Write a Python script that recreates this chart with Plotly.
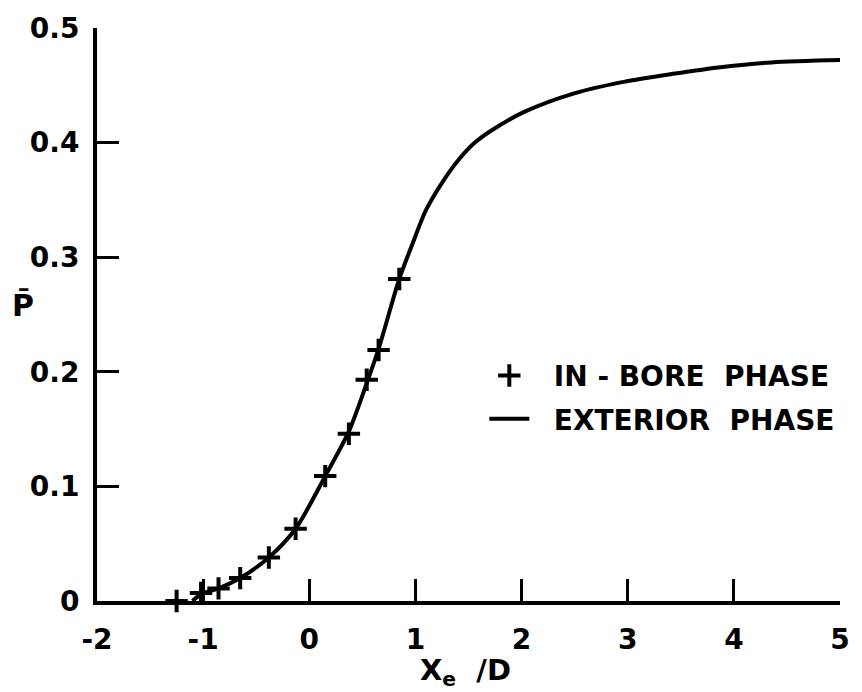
import plotly.graph_objects as go

# In-bore phase data points (+ markers)
inbore_x = [-1.25, -1.02, -0.855, -0.651, -0.381, -0.129, 0.150, 0.373, 0.541, 0.653, 0.848]
inbore_y = [0.0, 0.007, 0.011, 0.020, 0.038, 0.063, 0.109, 0.146, 0.193, 0.219, 0.281]

# Exterior phase curve
ext_x = [-1.10, -1.02, -0.855, -0.651, -0.381, -0.129, 0.150, 0.373, 0.541, 0.653, 0.848,
         0.978, 1.099, 1.258, 1.407, 1.560, 1.723, 2.030, 2.496, 2.961, 3.427, 3.892, 4.357, 5.0]
ext_y = [0.0, 0.006, 0.011, 0.020, 0.038, 0.063, 0.109, 0.148, 0.190, 0.220, 0.281,
         0.313, 0.341, 0.366, 0.385, 0.400, 0.411, 0.427, 0.443, 0.453, 0.460, 0.466, 0.470, 0.472]

x_ticks = [-2, -1, 0, 1, 2, 3, 4, 5]
y_ticks = [0, 0.1, 0.2, 0.3, 0.4, 0.5]
y_ticktext = ["0", "0.1", "0.2", "0.3", "0.4", "0.5"]

FONT = "DejaVu Sans"
NB = "\u00a0"

fig = go.Figure()
fig.add_trace(go.Scatter(
    x=inbore_x, y=inbore_y, mode="markers", name=NB * 2 + "IN - BORE" + NB * 2 + "PHASE",
    legendgroup="a",
    marker=dict(symbol="cross-thin", size=16, line=dict(width=4, color="black"), color="black"),
    cliponaxis=False,
))
fig.add_trace(go.Scatter(
    x=ext_x, y=ext_y, mode="lines", name=NB * 2 + "EXTERIOR" + NB * 2 + "PHASE",
    legendgroup="b",
    line=dict(color="black", width=4, shape="spline", smoothing=0.8),
    cliponaxis=False,
))

W, H = 862, 692
L, R, T, B = 97, 13, 24, 91
pw, ph = W - L - R, H - T - B

def px_x(p):
    return (p - L) / pw

def px_y(p):
    return (H - B - p) / ph

fig.update_layout(
    width=W, height=H,
    margin=dict(l=L, r=R, t=T, b=B),
    paper_bgcolor="white", plot_bgcolor="white",
    font=dict(family=FONT, size=29, color="black", weight="bold"),
    showlegend=True,
    legend=dict(
        x=px_x(489), y=px_y(349), xanchor="left", yanchor="top",
        bgcolor="rgba(0,0,0,0)", borderwidth=0,
        font=dict(family=FONT, size=28, color="black", weight="bold"),
        tracegroupgap=4, itemwidth=40,
    ),
    xaxis=dict(
        range=[-2, 5], tickvals=x_ticks, ticktext=[str(v) for v in x_ticks],
        showgrid=False, zeroline=False,
        showline=True, linecolor="black", linewidth=4,
        ticks="inside", ticklen=22, tickwidth=3, tickcolor="black",
        tickfont=dict(family=FONT, size=28, color="black", weight="bold"),
        ticklabelstandoff=10,
    ),
    yaxis=dict(
        range=[0, 0.5], tickvals=y_ticks, ticktext=y_ticktext,
        showgrid=False, zeroline=False,
        showline=True, linecolor="black", linewidth=4,
        ticks="inside", ticklen=22, tickwidth=3, tickcolor="black",
        tickfont=dict(family=FONT, size=28, color="black", weight="bold"),
        ticklabelstandoff=8,
    ),
    annotations=[
        dict(text="X<sub>e</sub>" + NB + " /D", xref="paper", yref="paper",
             x=px_x(470), y=px_y(672), xanchor="center", yanchor="middle",
             showarrow=False, font=dict(family=FONT, size=29, color="black", weight="bold")),
        dict(text="P\u0304", xref="paper", yref="paper",
             x=px_x(22), y=px_y(303), xanchor="center", yanchor="middle",
             showarrow=False, font=dict(family=FONT, size=30, color="black", weight="bold")),
    ],
)

fig.write_html("out.html")
